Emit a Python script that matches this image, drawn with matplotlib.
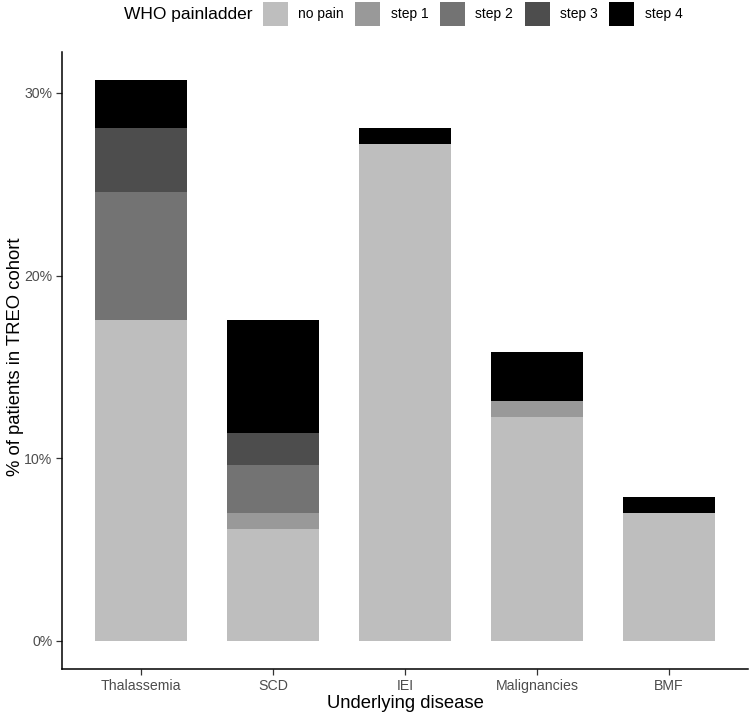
import matplotlib
matplotlib.use("Agg")
import matplotlib.pyplot as plt
import numpy as np
from matplotlib.patches import Patch

plt.rcParams['font.family'] = ['Liberation Sans', 'DejaVu Sans']

# Data (number of patients, TREO cohort total = 114)
diseases = ["Thalassemia", "SCD", "IEI", "Malignancies", "BMF"]
steps = ["no pain", "step 1", "step 2", "step 3", "step 4"]
no_pain = [20, 7, 31, 14, 8]
step1 = [0, 1, 0, 1, 0]
step2 = [8, 3, 0, 0, 0]
step3 = [4, 2, 0, 0, 0]
step4 = [3, 7, 1, 3, 1]
total_patients = 114
colors = ["#BEBEBE", "#999999", "#737373", "#4D4D4D", "#000000"]

series = [no_pain, step1, step2, step3, step4]
pct = [np.array(s) / total_patients * 100 for s in series]

fig = plt.figure(figsize=(7.51, 7.16), dpi=100)
W, H = 751, 716
ax_left, ax_right, ax_top, ax_bottom = 62, 748, 52, 669
ax = fig.add_axes([ax_left / W, (H - ax_bottom) / H, (ax_right - ax_left) / W, (ax_bottom - ax_top) / H])

x = np.arange(len(diseases))
bottom = np.zeros(len(diseases))
for vals, c, lab in zip(pct, colors, steps):
    ax.bar(x, vals, width=0.7, bottom=bottom, color=c, label=lab, linewidth=0)
    bottom += vals

top = bottom.max()
ax.set_xlim(-0.6, len(diseases) - 0.4)
ax.set_ylim(-0.05 * top, top * 1.05)
ax.set_yticks([0, 10, 20, 30])
ax.set_yticklabels(["0%", "10%", "20%", "30%"])
ax.set_xticks(x)
ax.set_xticklabels(diseases)

for s in ["top", "right"]:
    ax.spines[s].set_visible(False)
for s in ["left", "bottom"]:
    ax.spines[s].set_linewidth(1.1)
    ax.spines[s].set_color("black")

ax.tick_params(axis="both", length=4, width=0.9, color="#333333",
               labelsize=10.2, labelcolor="#4D4D4D", pad=3)

ax.set_xlabel("Underlying disease", fontsize=13.3, color="black", labelpad=2)
ax.set_ylabel("% of patients in TREO cohort", fontsize=13.3, color="black")
ylab = ax.yaxis.label
ylab.set_rotation_mode("default")
ylab.set_va("center")
ylab.set_ha("center")
ax.yaxis.set_label_coords((16 - ax_left) / (ax_right - ax_left), (ax_bottom - 357) / (ax_bottom - ax_top))

# Legend
fig.text(124 / W, 1 - 15 / H, "WHO painladder", fontsize=12.5, va="center", ha="left")
handles = [Patch(facecolor=c, edgecolor="none", label=l) for c, l in zip(colors, steps)]
fig.legend(handles=handles, loc="center left", bbox_to_anchor=(263 / W, 1 - 14 / H),
           ncol=5, frameon=False, fontsize=10, handlelength=1.8, handleheight=2.2,
           handletextpad=0.75, columnspacing=0.82, borderpad=0, borderaxespad=0)

fig.savefig("out.png", dpi=100)
